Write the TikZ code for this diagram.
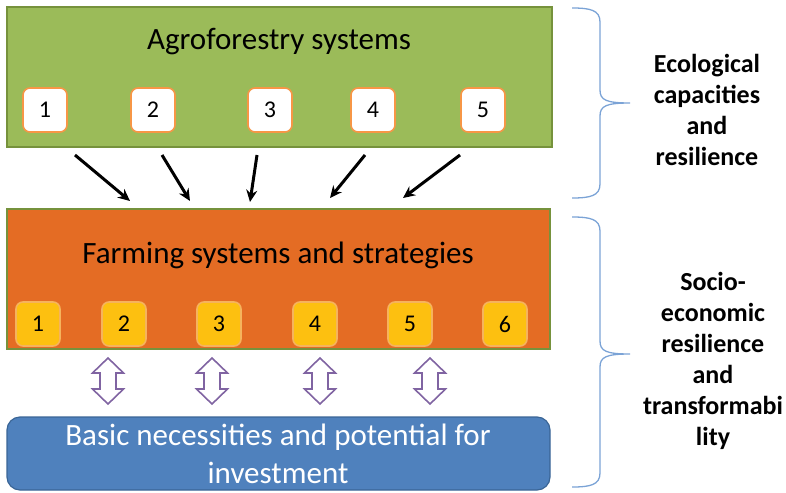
\documentclass[tikz,border=0pt]{standalone}
\usepackage{fontspec}
\setmainfont{Carlito}
\usetikzlibrary{arrows.meta}

\definecolor{afgreen}{HTML}{9BBB59}
\definecolor{afgreenedge}{HTML}{76923C}
\definecolor{fsorange}{HTML}{E46C24}
\definecolor{boxorange}{HTML}{F79646}
\definecolor{optyellow}{HTML}{FDC010}
\definecolor{optglow}{HTML}{F6B35C}
\definecolor{needblue}{HTML}{4F81BD}
\definecolor{neededge}{HTML}{3A6596}
\definecolor{linkpurple}{HTML}{8064A2}
\definecolor{bracketblue}{HTML}{7BA3D6}

\tikzset{
  panel/.style={rectangle, inner sep=0pt, line width=1.2pt},
  paneltitle/.style={font=\fontsize{31}{38}\selectfont, inner sep=0pt, anchor=base},
  optbox/.style={rectangle, rounded corners=7pt, line width=1.6pt,
    minimum width=44pt, minimum height=44pt, inner sep=0pt,
    font=\fontsize{24}{28}\selectfont},
  afopt/.style={optbox, fill=white, draw=boxorange},
  fsopt/.style={optbox, fill=optyellow, draw=optglow},
  flow/.style={line width=3pt, -{Stealth[length=12pt,width=11pt]}},
  sidelabel/.style={align=center, font=\bfseries\fontsize{26}{31}\selectfont, inner sep=0pt},
  bracket/.style={draw=bracketblue, line width=1.3pt},
  pics/updown/.style={code={
    \draw[linkpurple, fill=white, line width=1.6pt, line join=miter]
      (0,-23) -- (15.5,-8) -- (8,-8) -- (8,8) -- (15.5,8) -- (0,23)
      -- (-15.5,8) -- (-8,8) -- (-8,-8) -- (-15.5,-8) -- cycle;
  }}
}

\begin{document}
\begin{tikzpicture}[x=1pt, y=-1pt]
\useasboundingbox (0,0) rectangle (786,492);

% Agroforestry panel with its five options
\node[panel, fill=afgreen, draw=afgreenedge, minimum width=545pt, minimum height=140pt] (agro) at (279.5,77) {};
\node[paneltitle] (agrotitle) at (279,50) {Agroforestry systems};
\node[afopt] (a1) at (45,110) {1};
\node[afopt] (a2) at (153,110) {2};
\node[afopt] (a3) at (270,110) {3};
\node[afopt] (a4) at (373,110) {4};
\node[afopt] (a5) at (483,110) {5};

% Farming panel with its six options
\node[panel, fill=fsorange, draw=afgreenedge, minimum width=543pt, minimum height=140pt] (farm) at (278.5,279) {};
\node[paneltitle] (farmtitle) at (278,263) {Farming systems and strategies};
\node[fsopt] (f1) at (38,324) {1};
\node[fsopt] (f2) at (124,324) {2};
\node[fsopt] (f3) at (219,324) {3};
\node[fsopt] (f4) at (315,324) {4};
\node[fsopt] (f5) at (410,324) {5};
\node[fsopt] (f6) at (505,324) {6};

% Needs panel
\node[rectangle, rounded corners=13pt, fill=needblue, draw=neededge, line width=1.2pt,
  minimum width=543pt, minimum height=73pt, inner sep=0pt] (needs) at (278.5,453.5) {};
\node[align=center, text=white, font=\fontsize{31}{38}\selectfont, inner sep=0pt]
  (needstext) at (278,453.5) {Basic necessities and potential for\\investment};

% Flows from agroforestry into farming
\coordinate (s1) at (75,155);  \coordinate (e1) at (130,201);
\coordinate (s2) at (162,155); \coordinate (e2) at (190,201);
\coordinate (s3) at (257,155); \coordinate (e3) at (250,202);
\coordinate (s4) at (365,155); \coordinate (e4) at (330,198);
\coordinate (s5) at (460,155); \coordinate (e5) at (403,198);
\foreach \i in {1,...,5} \draw[flow] (s\i) -- (e\i);

% Two-way links between farming and needs
\foreach \x in {108,212,320,430} \pic at (\x,381) {updown};

% Brackets
\draw[bracket] (572,8) .. controls (590,8) and (600,10) .. (600,22) -- (600,90)
  .. controls (600,100) and (606,103) .. (630,103)
  .. controls (606,103) and (600,106) .. (600,116) -- (600,184)
  .. controls (600,196) and (590,198) .. (572,198);
\draw[bracket] (572,217) .. controls (590,217) and (600,219) .. (600,231) -- (600,341)
  .. controls (600,351) and (606,354) .. (630,354)
  .. controls (606,354) and (600,357) .. (600,367) -- (600,473)
  .. controls (600,485) and (590,487) .. (572,487);

\node[sidelabel] (eco) at (707,110) {Ecological\\capacities\\and\\resilience};
\node[sidelabel] (socio) at (713,361) {Socio-\\economic\\resilience\\and\\transformabi\\lity};
\end{tikzpicture}
\end{document}
